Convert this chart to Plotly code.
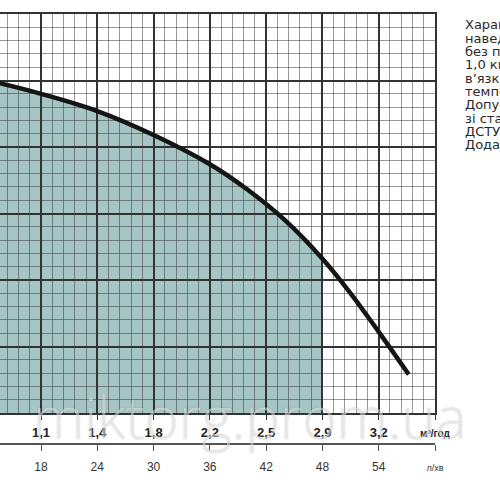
import plotly.graph_objects as go

# pump curve (flow in l/min, head in grid cells)
flow_lmin = [13.6, 18, 24, 30, 36, 40, 44, 48, 51, 54, 57.2]
head = [24.8, 24.0, 22.7, 20.9, 18.7, 16.8, 14.5, 11.6, 9.0, 6.1, 2.9]
work_limit = 48  # shaded working range ends here

lmin_ticks = [18, 24, 30, 36, 42, 48, 54, 60]
lmin_labels = ["18", "24", "30", "36", "42", "48", "54", "л/хв"]
m3h_labels = ["1,1", "1,4", "1,8", "2,2", "2,5", "2,9", "3,2", "м³/год"]

note_lines = [
    "Характеристики",
    "наведені для води",
    "без повітря, щільністю",
    "1,0 кг/дм³ та кінематичною",
    "в’язкістю 1 мм²/с при",
    "температурі 20 °C.",
    "Допуски відповідно",
    "зі стандартом",
    "ДСТУ ISO 9906",
    "Додаток A.",
]

x_range = [13.63, 60]
y_range = [0, 30]

fig = go.Figure()
# curve sits on the lower (l/min) axis, which shares the same range
fig.add_trace(go.Scatter(
    x=flow_lmin, y=head, mode="lines", xaxis="x2",
    line=dict(color="#151515", width=4.5, shape="spline", smoothing=1),
    hoverinfo="skip", showlegend=False,
))

# shaded area under the curve (below the grid lines)
fx = [q for q in flow_lmin if q <= work_limit]
fy = head[:len(fx)]
path = f"M {fx[0]},0 " + " ".join(f"L {x},{y}" for x, y in zip(fx, fy)) + f" L {work_limit},0 Z"
fig.add_shape(type="path", path=path, xref="x", yref="y", layer="below",
              fillcolor="#a6c6c6", line=dict(width=0))

m3_text = [f"<span style='font-size:10px'>{t}</span>" if "/" in t else t for t in m3h_labels]
lmin_text = [f"<span style='font-size:9px'>{t}</span>" if "/" in t else t for t in lmin_labels]

fig.update_layout(
    width=500, height=500,
    margin=dict(l=0, r=65, t=14, b=56),
    paper_bgcolor="white", plot_bgcolor="white",
    showlegend=False,
    xaxis=dict(
        range=x_range, tickmode="array", tickvals=lmin_ticks, ticktext=m3_text,
        showgrid=True, gridcolor="#333333", gridwidth=1.5,
        minor=dict(tick0=18, dtick=1.2, showgrid=True, gridcolor="rgba(50,50,50,0.5)", gridwidth=1),
        showline=True, linecolor="#333333", linewidth=1.5, mirror=True,
        ticks="outside", ticklen=5, tickcolor="#333333", tickwidth=1,
        tickfont=dict(family="Liberation Sans", size=13, color="#222222", weight="bold"),
        ticklabelstandoff=2, zeroline=False,
    ),
    xaxis2=dict(
        range=x_range, overlaying="x", anchor="free", position=0, side="bottom",
        tickmode="array", tickvals=lmin_ticks, ticktext=lmin_text,
        showgrid=False, showline=True, linecolor="#555555", linewidth=1.5,
        ticks="outside", ticklen=6, tickcolor="#555555", tickwidth=1,
        tickfont=dict(family="Liberation Sans", size=12, color="#333333"),
        ticklabelstandoff=6, zeroline=False,
    ),
    yaxis=dict(
        range=y_range, domain=[31 / 430, 1], side="right",
        tick0=0, dtick=5, showgrid=True, gridcolor="#333333", gridwidth=1.5,
        minor=dict(tick0=0, dtick=1, showgrid=True, gridcolor="rgba(50,50,50,0.5)", gridwidth=1),
        showline=True, linecolor="#333333", linewidth=1.5,
        showticklabels=False, ticks="", zeroline=False,
    ),
)

# side note, cut off by the page edge like the original
for i, line in enumerate(note_lines):
    fig.add_annotation(
        text=line, xref="paper", yref="paper",
        x=463 / 435, y=(444 - 25 - i * 13.3) / 430,
        xanchor="left", yanchor="middle", showarrow=False, align="left",
        font=dict(family="DejaVu Sans", size=13, color="#2a2a2a"),
    )

# watermark
fig.add_annotation(
    text="miktorg.prom.ua", xref="paper", yref="paper",
    x=250 / 435, y=0.065, xanchor="center", yanchor="middle", showarrow=False,
    font=dict(family="Open Sans", size=58, color="rgba(255,255,255,0.5)", weight=300,
              shadow="0 0 1.5px rgba(0,0,0,0.45)"),
)

fig.write_html("out.html", config={"displayModeBar": False},
               post_script="document.body.style.margin = '0';")
